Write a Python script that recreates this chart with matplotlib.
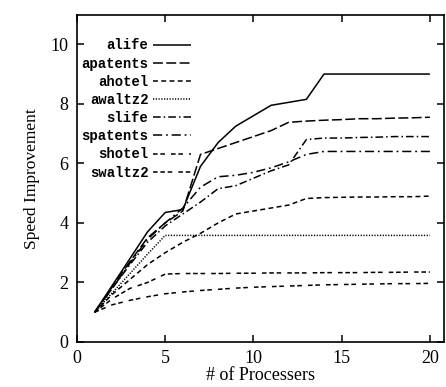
import matplotlib
matplotlib.use("Agg")
import matplotlib.pyplot as plt

procs = list(range(1, 21))

alife = [1.0, 1.9, 2.8, 3.7, 4.35, 4.45, 5.9, 6.7, 7.25, 7.6,
         7.95, 8.05, 8.15, 9.0, 9.0, 9.0, 9.0, 9.0, 9.0, 9.0]
apatents = [1.0, 1.85, 2.7, 3.5, 4.0, 4.4, 6.3, 6.5, 6.7, 6.9,
            7.1, 7.38, 7.42, 7.45, 7.47, 7.5, 7.5, 7.52, 7.53, 7.55]
ahotel = [1.0, 1.6, 2.1, 2.6, 3.0, 3.35, 3.65, 4.0, 4.3, 4.4,
          4.5, 4.6, 4.82, 4.85, 4.86, 4.87, 4.87, 4.88, 4.88, 4.9]
awaltz2 = [1.0, 1.65, 2.3, 2.95, 3.58, 3.58, 3.58, 3.58, 3.58, 3.58,
           3.58, 3.58, 3.58, 3.58, 3.58, 3.58, 3.58, 3.58, 3.58, 3.58]
slife = [1.0, 1.8, 2.6, 3.35, 3.9, 4.3, 4.7, 5.15, 5.25, 5.5,
         5.75, 5.95, 6.8, 6.85, 6.85, 6.87, 6.88, 6.9, 6.9, 6.9]
spatents = [1.0, 1.8, 2.65, 3.45, 4.0, 4.5, 5.2, 5.55, 5.6, 5.7,
            5.85, 6.05, 6.3, 6.4, 6.4, 6.4, 6.4, 6.4, 6.4, 6.4]
shotel = [1.0, 1.25, 1.4, 1.52, 1.62, 1.68, 1.73, 1.77, 1.81, 1.84,
          1.86, 1.88, 1.9, 1.92, 1.93, 1.94, 1.95, 1.96, 1.96, 1.97]
swaltz2 = [1.0, 1.45, 1.8, 2.0, 2.28, 2.3, 2.3, 2.3, 2.31, 2.31,
           2.32, 2.32, 2.32, 2.33, 2.33, 2.33, 2.34, 2.34, 2.35, 2.35]

series = [
    ("alife", alife, (0, ())),
    ("apatents", apatents, (0, (6.5, 2.2))),
    ("ahotel", ahotel, (0, (3.2, 2.2))),
    ("awaltz2", awaltz2, (0, (0.8, 1.0))),
    ("slife", slife, (0, (5, 2, 1, 2))),
    ("spatents", spatents, (0, (6, 2.5, 1.2, 2.5))),
    ("shotel", shotel, (0, (3, 1.8, 3, 4))),
    ("swaltz2", swaltz2, (0, (3, 1.8, 3, 1.8, 3, 4))),
]

fig = plt.figure(figsize=(4.46, 3.87), dpi=100)
ax = fig.add_axes([0.1726, 0.1163, 0.8229, 0.8462])

for name, vals, ls in series:
    ax.plot(procs, vals, color="black", lw=1.1, linestyle=ls, label=name)

ax.set_xlim(0, 20.8)
ax.set_ylim(0, 11)
ax.set_xticks([0, 5, 10, 15, 20])
ax.set_yticks([0, 2, 4, 6, 8, 10])
ax.tick_params(direction="in", length=5, width=1.1, top=True, right=True,
               labelsize=13, pad=6)
for lab in ax.get_xticklabels() + ax.get_yticklabels():
    lab.set_family("Liberation Serif")
for s in ax.spines.values():
    s.set_linewidth(1.2)

ax.set_xlabel("# of Processers", family="Liberation Serif", fontsize=13, labelpad=0)
ax.set_ylabel("Speed Improvement", family="Liberation Serif", fontsize=12.5, labelpad=8)

ax.legend(loc="upper right", bbox_to_anchor=(0.31, 0.927), frameon=False,
          markerfirst=False, handlelength=2.7, handletextpad=0.35,
          labelspacing=0.3, borderpad=0, borderaxespad=0,
          prop={"family": "Liberation Mono", "weight": "bold", "size": 10})

fig.savefig("out.png", dpi=100)
